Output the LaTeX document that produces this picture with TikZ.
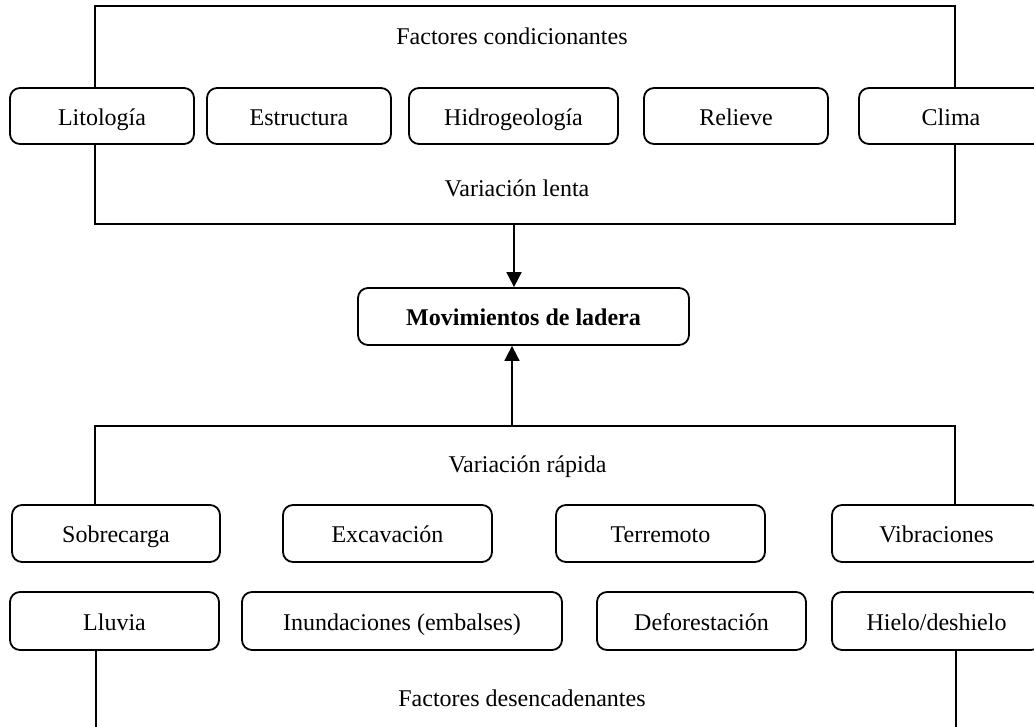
\documentclass[tikz,border=0pt]{standalone}
\usepackage{fontspec}
\setmainfont{Liberation Serif}
\usetikzlibrary{arrows.meta}
\begin{document}
\begin{tikzpicture}[x=1pt,y=-1pt,
  line/.style={line width=1.8pt},
  factor/.style={draw, line width=1.8pt, rounded corners=10pt, fill=white,
    inner sep=0pt, text height=18pt, text depth=0pt,
    font=\fontsize{24}{28}\selectfont},
  label/.style={inner sep=0pt, text height=18pt, text depth=0pt,
    font=\fontsize{24}{28}\selectfont},
  arr/.style={line, -{Triangle[length=15pt,width=15pt]}}]
\useasboundingbox (0,0) rectangle (1034,726);
\clip (0,0) rectangle (1034,726);

% conditioning factors frame
\draw[line] (95,6) rectangle (955,224);
\node[label] (fc) at (512,35) {Factores condicionantes};
\node[label] (vl) at (517,187) {Variación lenta};

\node[factor, minimum width=184pt, minimum height=56pt] (lit) at (102,116) {Litología};
\node[factor, minimum width=184pt, minimum height=56pt] (est) at (299,116) {Estructura};
\node[factor, minimum width=209pt, minimum height=56pt] (hid) at (513.5,116) {Hidrogeología};
\node[factor, minimum width=184pt, minimum height=56pt] (rel) at (736,116) {Relieve};
\node[factor, minimum width=184pt, minimum height=56pt] (cli) at (951,116) {Clima};

% central box
\node[factor, minimum width=331pt, minimum height=57pt, font=\fontsize{24}{28}\selectfont\bfseries]
  (mov) at (523.5,316.5) {Movimientos de ladera};

\coordinate (topout) at (514,224);
\draw[arr] (topout) -- (topout |- mov.north);

% triggering factors
\node[factor, minimum width=208pt, minimum height=57pt] (sob) at (116,533.5) {Sobrecarga};
\node[factor, minimum width=209pt, minimum height=57pt] (exc) at (387.5,533.5) {Excavación};
\node[factor, minimum width=209pt, minimum height=57pt] (ter) at (660.5,533.5) {Terremoto};
\node[factor, minimum width=209pt, minimum height=57pt] (vib) at (936.5,533.5) {Vibraciones};

\node[factor, minimum width=209pt, minimum height=58pt] (llu) at (114.5,621) {Lluvia};
\node[factor, minimum width=320pt, minimum height=58pt] (inu) at (402,621) {Inundaciones (embalses)};
\node[factor, minimum width=209pt, minimum height=58pt] (def) at (701.5,621) {Deforestación};
\node[factor, minimum width=209pt, minimum height=58pt] (hie) at (936.5,621) {Hielo/deshielo};

\node[label] (vr) at (527.5,463) {Variación rápida};
\node[label] (fd) at (522,697) {Factores desencadenantes};

\coordinate (bl) at (95,426);
\coordinate (br) at (955,426);
\draw[line] (bl |- sob.north) -- (bl) -- (br) -- (br |- vib.north);
\draw[line] ([xshift=1pt]bl |- llu.south) -- ++(0,80);
\draw[line] ([xshift=1pt]br |- hie.south) -- ++(0,80);

\coordinate (botout) at (512,426);
\draw[arr] (botout) -- (botout |- mov.south);
\end{tikzpicture}
\end{document}
